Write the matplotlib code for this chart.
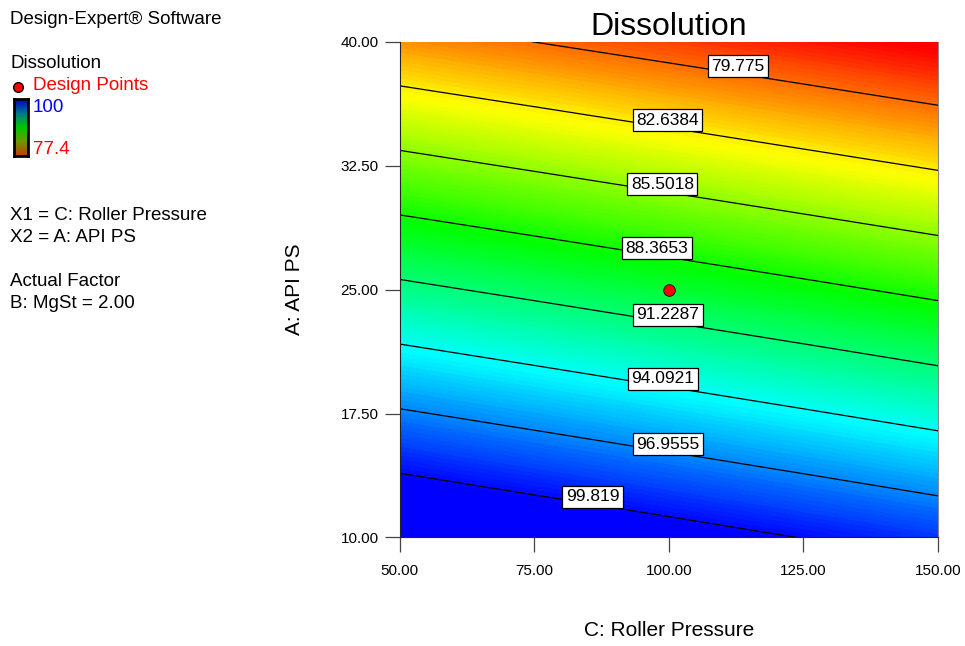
import numpy as np
import matplotlib.pyplot as plt
from matplotlib.colors import LinearSegmentedColormap

plt.rcParams['font.family'] = ['Liberation Sans', 'DejaVu Sans']

# response surface (Dissolution, %)
roller_pressure = [50, 75, 100, 125, 150]
api_ps = [10, 17.5, 25, 32.5, 40]
dissolution = [
    [102.67, 101.70, 100.74, 99.77, 98.79],
    [97.17, 96.22, 95.26, 94.30, 93.33],
    [91.68, 90.74, 89.79, 88.84, 87.88],
    [86.18, 85.25, 84.31, 83.37, 82.43],
    [80.68, 79.76, 78.84, 77.91, 76.98],
]
levels = [79.775, 82.6384, 85.5018, 88.3653, 91.2287, 94.0921, 96.9555, 99.819]
label_pos = [(113, 38.4), (100, 35.2), (99, 31.3), (98, 27.4),
             (100, 23.3), (99, 19.4), (100, 15.6), (86, 12.3)]
design_x = [100]
design_y = [25]
z_min, z_max = 77.4, 100

cmap = LinearSegmentedColormap.from_list(
    'de', ['#ff0000', '#ffff00', '#00ff00', '#00ffff', '#0000ff'])
cmap_dark = LinearSegmentedColormap.from_list(
    'de_dark', ['#c83c00', '#6a9a00', '#00c800', '#007a8a', '#0000d0'])

fig = plt.figure(figsize=(9.65, 6.46), dpi=100)
ax = fig.add_axes([0.414, 0.168, 0.558, 0.7675])

X, Y = np.meshgrid(roller_pressure, api_ps)
Z = np.array(dissolution)
ax.contourf(X, Y, Z, levels=np.linspace(z_min, z_max, 120), cmap=cmap, extend='both')
cs = ax.contour(X, Y, Z, levels=levels, colors='black', linewidths=0.9)
labels = ax.clabel(cs, fmt=lambda v: f'{v:g}', manual=label_pos, inline=False, fontsize=12.5)
for t in labels:
    x0, y0 = t.get_position()
    t.set_position((x0, y0 + 0.45))
    t.set_rotation(0)
    t.set_bbox(dict(facecolor='white', edgecolor='black', linewidth=0.9, pad=2.5))
    t.set_zorder(5)

ax.scatter(design_x, design_y, s=70, color='red', edgecolor='black', linewidth=0.6, zorder=6)

ax.set_xlim(50, 150)
ax.set_ylim(10, 40)
ax.set_xticks([50, 75, 100, 125, 150])
ax.set_yticks([10, 17.5, 25, 32.5, 40])
ax.xaxis.set_major_formatter(lambda v, p: f'{v:.2f}')
ax.yaxis.set_major_formatter(lambda v, p: f'{v:.2f}')
ax.tick_params(direction='out', length=11, width=0.9, color='#444444',
               labelsize=11, pad=4)
ax.tick_params(axis='x', pad=8)
for s in ['left', 'bottom']:
    ax.spines[s].set_color('#222222')
ax.spines['top'].set_visible(False)
ax.spines['right'].set_color('#888888')
ax.set_title('Dissolution', fontsize=23, pad=2)
ax.set_xlabel('C: Roller Pressure', fontsize=15, labelpad=31)
ax.set_ylabel('A: API PS', fontsize=15, labelpad=26)

# legend block on the left
fs = 13.5
fig.text(10/965, 1 - 20/646, 'Design-Expert® Software', fontsize=fs, va='center')
fig.text(10/965, 1 - 63/646, 'Dissolution', fontsize=fs, va='center')
fig.text(33/965, 1 - 86/646, 'Design Points', fontsize=fs, va='center', color='red')
fig.lines.append(plt.Line2D([18/965], [1 - 87/646], marker='o', markersize=7,
                            markerfacecolor='red', markeredgecolor='black',
                            transform=fig.transFigure))
fig.text(33/965, 1 - 108/646, '100', fontsize=fs, va='center', color='blue')
fig.text(33/965, 1 - 150/646, '77.4', fontsize=fs, va='center', color='red')
cax = fig.add_axes([14/965, 1 - 156/646, 14/965, 57/646])
cax.imshow(np.linspace(z_max, z_min, 50).reshape(-1, 1), cmap=cmap_dark,
           vmin=z_min, vmax=z_max, aspect='auto')
cax.set_xticks([])
cax.set_yticks([])
for s in cax.spines.values():
    s.set_linewidth(2)
fig.text(10/965, 1 - 215/646, 'X1 = C: Roller Pressure', fontsize=fs, va='center')
fig.text(10/965, 1 - 237/646, 'X2 = A: API PS', fontsize=fs, va='center')
fig.text(10/965, 1 - 281/646, 'Actual Factor', fontsize=fs, va='center')
fig.text(10/965, 1 - 303/646, 'B: MgSt = 2.00', fontsize=fs, va='center')

fig.savefig('out.png', dpi=100)
